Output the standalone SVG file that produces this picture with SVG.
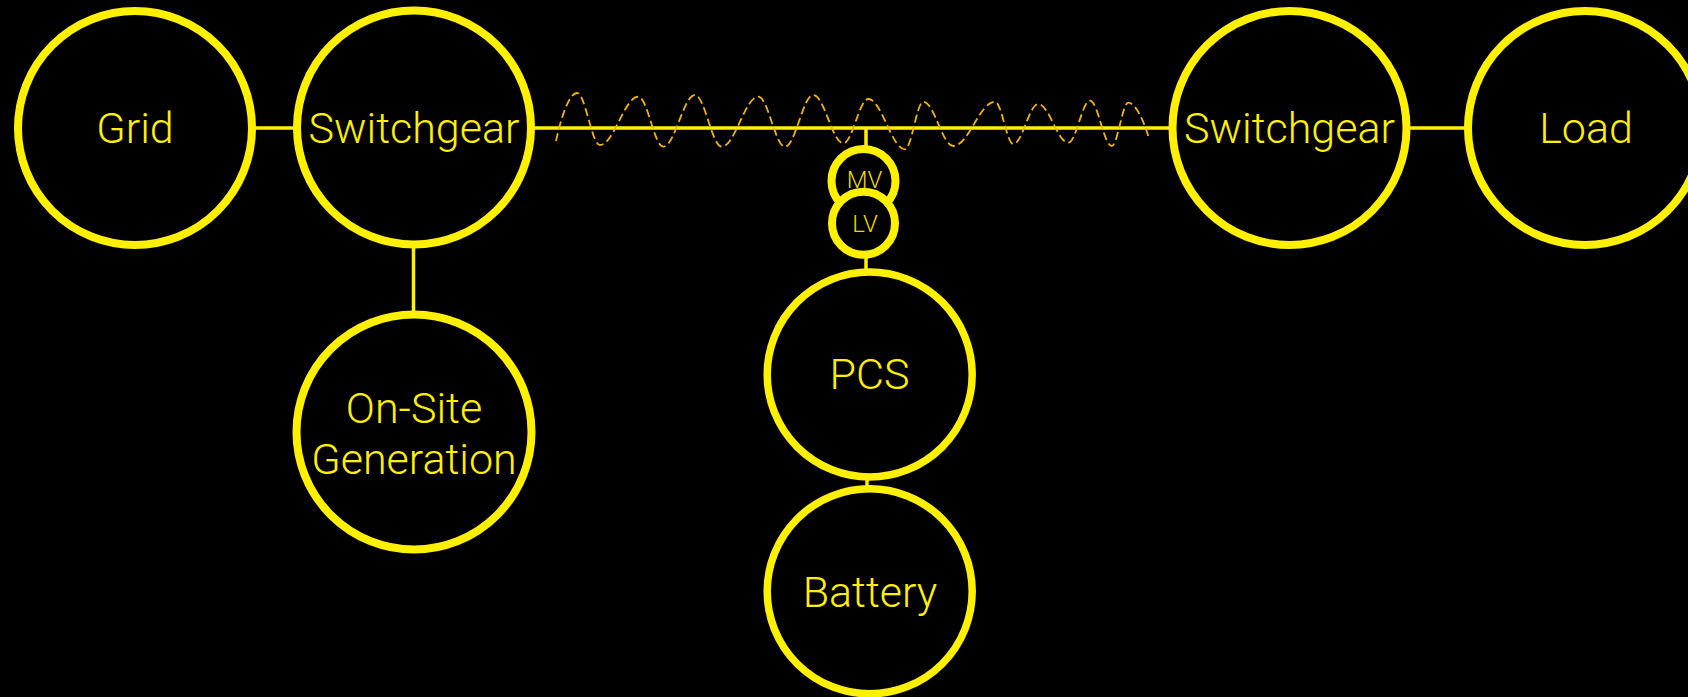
<svg xmlns="http://www.w3.org/2000/svg" width="1688" height="697" viewBox="0 0 1688 697">
  <style>
    .node { fill: #000000; stroke: #fff000; stroke-width: 8; }
    .small { fill: #000000; stroke: #fff000; stroke-width: 8; }
    .wire { stroke: #fff000; stroke-width: 3.5; fill: none; }
    .wave { stroke: #f2b400; stroke-width: 1.8; fill: none; stroke-dasharray: 8 4; }
    .label { fill: #fff000; font-family: Roboto, "Liberation Sans", Arial, sans-serif; font-weight: 300; font-size: 43px; text-anchor: middle; }
    .tlabel { fill: #e8d800; font-family: Roboto, "Liberation Sans", Arial, sans-serif; font-weight: 300; font-size: 24px; text-anchor: middle; }
  </style>
  <rect x="0" y="0" width="1688" height="697" fill="#000000"/>

  <g id="connectors">
    <line class="wire" x1="250" y1="128" x2="298" y2="128"/>
    <line class="wire" x1="530" y1="128" x2="1174" y2="128"/>
    <line class="wire" x1="1405" y1="128" x2="1470" y2="128"/>
    <line class="wire" x1="413.5" y1="244" x2="413.5" y2="316"/>
    <line class="wire" x1="866" y1="128" x2="866" y2="150"/>
    <line class="wire" x1="866" y1="254" x2="866" y2="273"/>
    <line class="wire" x1="867" y1="476" x2="867" y2="490"/>
  </g>

  <g id="ac-wave">
    <path class="wave" d="M556,141 C561,118 569,93 577,93 C585.4,93 591.6,145 600,145 C613.9,145 624.4,96.7 638.3,96.7 C647.4,96.7 654.2,146.7 663.3,146.7 C674.8,146.7 683.5,95 695,95 C704.7,95 712,146.7 721.7,146.7 C735,146.7 745,96.7 758.3,96.7 C768,96.7 775.3,146.7 785,146.7 C795.3,146.7 803,95 813.3,95 C824.2,95 832.4,143.3 843.3,143.3 C852.4,143.3 859.2,99 868.3,99 C881.6,99 891.7,149.3 905,149.3 C911.7,149.3 916.6,101.7 923.3,101.7 C934.2,101.7 942.4,146 953.3,146 C968.5,146 979.8,101.7 995,101.7 C1001.7,101.7 1006.6,144 1013.3,144 C1022.4,144 1029.2,104 1038.3,104 C1049.2,104 1057.4,142.7 1068.3,142.7 C1076.2,142.7 1082.1,100.7 1090,100.7 C1097.9,100.7 1103.8,146 1111.7,146 C1117.7,146 1122.3,102.7 1128.3,102.7 C1135,102.7 1143,118 1149.3,139.3"/>
  </g>

  <g id="grid">
    <circle class="node" cx="135" cy="128" r="117"/>
    <text class="label" x="135" y="143">Grid</text>
  </g>
  <g id="switchgear-1">
    <circle class="node" cx="414" cy="127.5" r="117"/>
    <text class="label" x="414" y="143">Switchgear</text>
  </g>
  <g id="switchgear-2">
    <circle class="node" cx="1289.5" cy="128" r="117"/>
    <text class="label" x="1289.5" y="143">Switchgear</text>
  </g>
  <g id="load">
    <circle class="node" cx="1585" cy="128" r="117"/>
    <text class="label" x="1586" y="143">Load</text>
  </g>
  <g id="on-site-generation">
    <circle class="node" cx="414" cy="432" r="117.5"/>
    <text class="label" x="414" y="422.7">On-Site</text>
    <text class="label" x="414" y="474">Generation</text>
  </g>
  <g id="mv">
    <circle class="small" cx="863.5" cy="181" r="32"/>
    <text class="tlabel" x="864.5" y="188.3">MV</text>
  </g>
  <g id="lv">
    <circle class="small" cx="863.5" cy="223.3" r="31.5"/>
    <text class="tlabel" x="865" y="231.7">LV</text>
  </g>
  <g id="pcs">
    <circle class="node" cx="869.7" cy="374.5" r="102.5" style="stroke-width:7.5"/>
    <text class="label" x="869.5" y="389.3">PCS</text>
  </g>
  <g id="battery">
    <circle class="node" cx="869.7" cy="591.3" r="102.5" style="stroke-width:7.5"/>
    <text class="label" x="870" y="607.3">Battery</text>
  </g>
</svg>
